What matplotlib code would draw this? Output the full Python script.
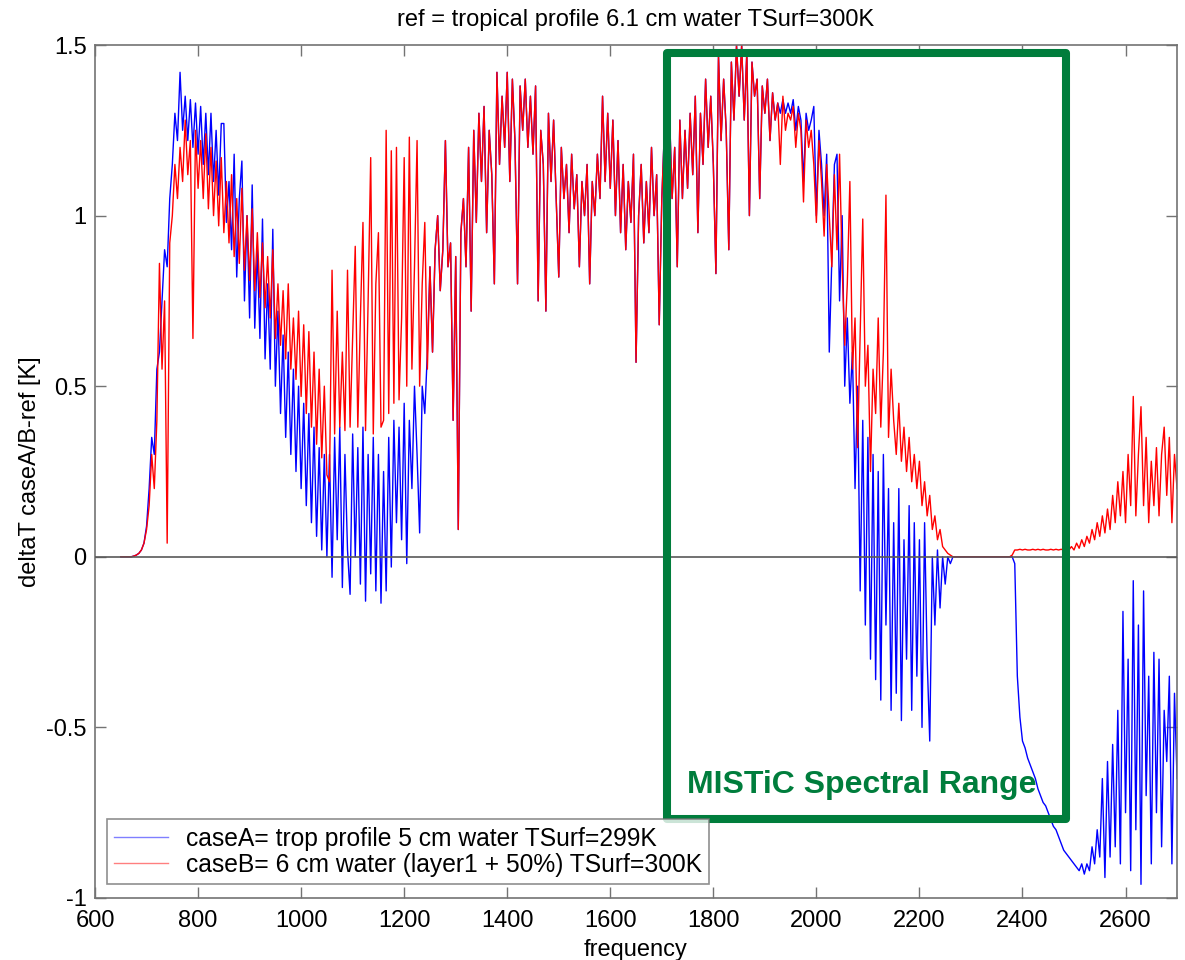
import matplotlib
matplotlib.use("Agg")
import matplotlib.pyplot as plt
import numpy as np
from matplotlib.patches import Rectangle

plt.rcParams['font.family'] = ['Liberation Sans', 'DejaVu Sans']

# spectral grid (cm-1), 5 cm-1 steps
freq = np.arange(650, 2705, 5)

# caseB - ref (red), one row per 100 cm-1
caseB_dT = [
    0.0, 0.0, 0.0, 0.0, 0.0, 0.002, 0.005, 0.01, 0.02, 0.04, 0.08, 0.15, 0.3, 0.2, 0.4, 0.86, 0.55, 0.75, 0.04, 0.92,
    1.0, 1.15, 1.05, 1.2, 1.1, 1.28, 1.12, 1.22, 0.64, 1.25, 1.08, 1.22, 1.05, 1.24, 1.02, 1.2, 1.0, 1.16, 0.97, 1.17,
    0.95, 1.1, 0.92, 1.12, 0.88, 1.05, 0.86, 1.08, 0.84, 1.0, 0.81, 1.02, 0.78, 0.95, 0.76, 0.92, 0.73, 0.88, 0.7, 0.9,
    0.64, 0.8, 0.62, 0.78, 0.58, 0.8, 0.55, 0.7, 0.52, 0.72, 0.47, 0.68, 0.42, 0.66, 0.38, 0.6, 0.33, 0.55, 0.29, 0.5,
    0.24, 0.22, 0.84, 0.36, 0.72, 0.38, 0.6, 0.37, 0.84, 0.38, 0.65, 0.91, 0.38, 0.7, 0.98, 0.37, 0.75, 1.17, 0.36, 0.8,
    0.95, 0.38, 0.4, 1.25, 0.42, 1.19, 0.45, 1.2, 0.46, 0.7, 1.17, 0.5, 1.23, 0.55, 0.85, 1.22, 0.5, 0.8, 0.98, 0.55,
    0.85, 0.6, 0.9, 1.0, 0.78, 0.9, 1.22, 0.85, 0.92, 0.4, 0.88, 0.08, 0.95, 1.05, 0.85, 1.2, 0.72, 1.25, 0.98, 1.3,
    1.1, 1.32, 0.95, 1.25, 1.12, 0.8, 1.42, 1.15, 1.35, 1.2, 1.42, 1.1, 1.4, 1.22, 0.8, 1.38, 1.25, 1.4, 1.2, 1.35,
    1.18, 1.38, 0.75, 1.25, 1.15, 0.72, 1.3, 1.1, 1.28, 1.05, 0.82, 1.2, 1.05, 1.15, 0.95, 1.18, 1.02, 1.12, 0.85, 1.1,
    1.0, 1.15, 0.8, 1.1, 1.0, 1.18, 1.05, 1.35, 1.1, 1.3, 1.08, 1.28, 1.0, 1.22, 0.95, 1.15, 0.9, 1.1, 0.98, 1.18,
    0.57, 1.0, 1.15, 0.92, 1.1, 0.95, 1.2, 1.0, 1.12, 0.68, 1.05, 1.25, 1.02, 1.3, 1.05, 1.2, 0.85, 1.28, 1.05, 1.25,
    1.08, 1.3, 1.12, 1.35, 0.95, 1.3, 1.15, 1.4, 1.2, 1.35, 1.15, 0.83, 1.47, 1.22, 1.4, 1.25, 0.9, 1.45, 1.28, 1.5,
    1.35, 1.5, 1.28, 1.48, 1.0, 1.45, 1.35, 1.4, 1.05, 1.38, 1.3, 1.4, 1.22, 1.36, 1.28, 1.33, 1.15, 1.35, 1.25, 1.3,
    1.28, 1.32, 1.2, 1.3, 1.25, 1.04, 1.28, 1.2, 1.25, 1.15, 0.98, 1.22, 1.1, 0.94, 1.15, 1.0, 0.85, 1.12, 0.9, 1.18,
    0.85, 0.62, 0.8, 1.1, 0.55, 0.7, 0.32, 0.65, 0.99, 0.5, 0.62, 0.25, 0.55, 0.42, 0.7, 0.38, 0.6, 1.06, 0.35, 0.55,
    0.4, 0.3, 0.45, 0.28, 0.38, 0.25, 0.35, 0.22, 0.3, 0.2, 0.28, 0.15, 0.22, 0.12, 0.18, 0.08, 0.12, 0.05, 0.08, 0.03,
    0.02, 0.01, 0.005, 0.0, 0.0, 0.0, 0.0, 0.0, 0.0, 0.0, 0.0, 0.0, 0.0, 0.0, 0.0, 0.0, 0.0, 0.0, 0.0, 0.0,
    0.0, 0.0, 0.0, 0.0, 0.0, 0.0, 0.005, 0.02, 0.02, 0.022, 0.02, 0.022, 0.02, 0.02, 0.022, 0.02, 0.022, 0.02, 0.022, 0.02,
    0.02, 0.022, 0.02, 0.022, 0.02, 0.022, 0.02, 0.025, 0.02, 0.03, 0.02, 0.04, 0.025, 0.05, 0.03, 0.06, 0.04, 0.08, 0.05, 0.1,
    0.06, 0.12, 0.07, 0.14, 0.08, 0.18, 0.1, 0.22, 0.12, 0.25, 0.1, 0.3, 0.15, 0.47, 0.12, 0.3, 0.44, 0.15, 0.35, 0.1,
    0.28, 0.15, 0.32, 0.12, 0.3, 0.38, 0.18, 0.35, 0.1, 0.3, 0.2,
]

# caseA - ref (blue), 650-1245 cm-1
caseA_lo = [
    0.0, 0.0, 0.0, 0.0, 0.0, 0.002, 0.005, 0.01, 0.02, 0.04, 0.09, 0.2, 0.35, 0.3, 0.55, 0.6, 0.75, 0.9, 0.85, 1.05,
    1.15, 1.3, 1.22, 1.42, 1.25, 1.35, 1.22, 1.34, 1.2, 1.33, 1.18, 1.32, 1.15, 1.3, 1.12, 1.3, 1.1, 1.25, 1.06, 1.27,
    1.27, 0.98, 1.1, 0.9, 1.18, 0.82, 1.05, 1.16, 0.75, 1.0, 0.7, 1.09, 0.67, 0.9, 0.64, 0.99, 0.58, 0.8, 0.55, 0.96,
    0.5, 0.72, 0.42, 0.65, 0.35, 0.6, 0.3, 0.55, 0.25, 0.5, 0.2, 0.45, 0.15, 0.42, 0.1, 0.38, 0.06, 0.32, 0.02, 0.3,
    0.0, 0.3, -0.06, 0.35, 0.05, 0.38, -0.09, 0.3, 0.02, -0.11, 0.36, 0.0, 0.32, -0.08, 0.38, -0.13, 0.3, -0.05, 0.35, -0.1,
    0.3, -0.136, 0.25, -0.1, 0.35, -0.03, 0.4, 0.1, 0.38, 0.05, 0.45, -0.02, 0.4, 0.2, 0.5, 0.3, 0.07, 0.5, 0.42, 0.6,
]
# caseA - ref (blue), 1930-2700 cm-1 (1250-1925 coincides with caseB)
caseA_hi = [
    1.3, 1.34, 1.3, 1.33,
    1.3, 1.34, 1.25, 1.32, 1.28, 1.1, 1.3, 1.25, 1.28, 1.32, 1.0, 1.25, 1.15, 1.0, 1.18, 0.6, 0.88, 1.15, 1.18, 0.75,
    1.0, 0.5, 0.7, 0.45, 0.6, 0.2, 0.5, -0.1, 0.4, -0.2, 0.35, -0.3, 0.3, -0.36, 0.25, -0.42, 0.3, -0.2, 0.2, -0.45,
    0.1, -0.4, 0.2, -0.48, 0.05, -0.3, 0.15, -0.45, 0.1, -0.35, 0.05, -0.5, 0.1, -0.3, -0.54, 0.0, -0.2, 0.02, -0.15, 0.0,
    -0.08, 0.0, -0.02, 0.0, 0.0, 0.0, 0.0, 0.0, 0.0, 0.0, 0.0, 0.0, 0.0, 0.0, 0.0, 0.0, 0.0, 0.0, 0.0, 0.0,
    0.0, 0.0, 0.0, 0.0, 0.0, 0.0, 0.0, -0.02, -0.35, -0.47, -0.54, -0.56, -0.59, -0.61, -0.63, -0.65, -0.68, -0.7, -0.72, -0.73,
    -0.75, -0.77, -0.79, -0.8, -0.82, -0.84, -0.86, -0.87, -0.88, -0.89, -0.9, -0.91, -0.92, -0.9, -0.93, -0.9, -0.92, -0.85, -0.9, -0.8,
    -0.88, -0.65, -0.94, -0.6, -0.88, -0.55, -0.85, -0.45, -0.9, -0.16, -0.75, -0.3, -0.92, -0.07, -0.8, -0.2, -0.96, -0.1, -0.7, -0.35,
    -0.9, -0.28, -0.75, -0.3, -0.85, -0.45, -0.6, -0.35, -0.9, -0.4, -0.65,
]
caseA_dT = caseA_lo + caseB_dT[120:256] + caseA_hi

# MISTiC band drawn as a box (frequency, deltaT)
mistic_f = (1710, 2484)
mistic_y = (-0.768, 1.477)

fig = plt.figure(figsize=(11.85, 9.6), dpi=100)
ax = fig.add_axes([0.0802, 0.0646, 0.9131, 0.8885])

ax.plot(freq, caseA_dT, color='#0000ff', lw=1.0,
        label='caseA= trop profile 5 cm water TSurf=299K')
ax.plot(freq, caseB_dT, color='#ff0000', lw=1.0,
        label='caseB= 6 cm water (layer1 + 50%) TSurf=300K')
ax.axhline(0, color='0.35', lw=1.2, zorder=3)

ax.set_xlim(600, 2700)
ax.set_ylim(-1, 1.5)
ax.set_xticks(np.arange(600, 2700, 200))
ax.set_yticks([-1, -0.5, 0, 0.5, 1, 1.5])
ax.set_yticklabels(['-1', '-0.5', '0', '0.5', '1', '1.5'])
ax.tick_params(direction='in', top=True, right=True, length=8, width=1,
               color='0.45', labelsize=17)
ax.tick_params(axis='x', pad=9)
ax.tick_params(axis='y', pad=6)
for s in ax.spines.values():
    s.set_color('0.45')
    s.set_linewidth(1.2)

ax.set_title('ref = tropical profile 6.1 cm water TSurf=300K', fontsize=17, pad=14)
ax.set_xlabel('frequency', fontsize=17, labelpad=5)
ax.set_ylabel('deltaT caseA/B-ref [K]', fontsize=17, labelpad=4)

leg = ax.legend(loc='lower left', bbox_to_anchor=(0.011, 0.016), borderaxespad=0,
                fontsize=17.7, frameon=True, fancybox=False, edgecolor='0.45',
                handlelength=2.2, handletextpad=0.7, labelspacing=0.1,
                borderpad=0.3)
leg.get_frame().set_linewidth(1.2)
for line in leg.get_lines():
    line.set_alpha(0.5)

box = Rectangle((mistic_f[0], mistic_y[0]), mistic_f[1] - mistic_f[0],
                mistic_y[1] - mistic_y[0], fill=False, edgecolor='#007d3c',
                lw=5.8, joinstyle='round', clip_on=False, zorder=5)
ax.add_patch(box)
ax.text(1749, -0.692, 'MISTiC Spectral Range', color='#007d3c', fontsize=23,
        fontweight='bold', ha='left', va='baseline', zorder=6)

fig.savefig('out.png', dpi=100)
